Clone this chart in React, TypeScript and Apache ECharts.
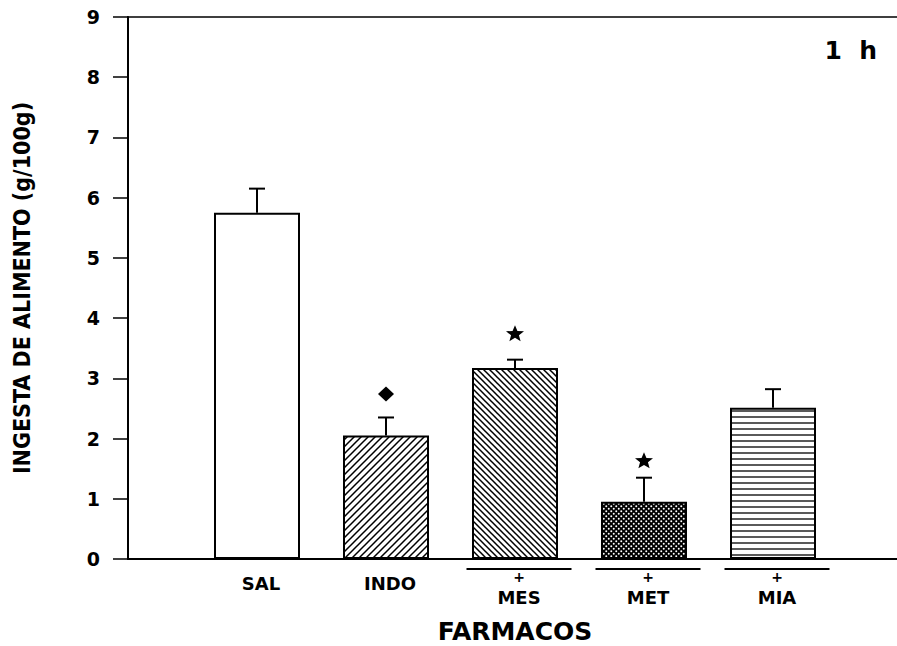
import React, { useEffect, useRef } from "react";
import * as echarts from "echarts";

// Food intake per drug group at 1 h
const categories = ["", "SAL", "INDO", "MES", "MET", "MIA", ""];
const intake = ["-", 5.75, 2.05, 3.17, 0.95, 2.51, "-"];
const sem = [null, 0.4, 0.3, 0.14, 0.4, 0.31, null];
// significance marks drawn above the error caps
const markDiamond = [[2, 2.74]];
const markStar = [[3, 3.75], [4, 1.64]];
const yTicks = [0, 1, 2, 3, 4, 5, 6, 7, 8, 9];
const combined = ["MES", "MET", "MIA"];

const STAR =
  "path://M50,0 L63,33 L98,35 L71,58 L80,92 L50,73 L20,92 L29,58 L2,35 L37,33 Z";

type Kind = "white" | "fwd" | "back" | "dots" | "horiz";
const kinds: Kind[] = ["white", "white", "fwd", "back", "dots", "horiz", "white"];

function makePattern(kind: Kind): any {
  if (kind === "white") return "#ffffff";
  const c = document.createElement("canvas");
  let s = 7;
  if (kind === "back") s = 6;
  if (kind === "dots") s = 5;
  if (kind === "horiz") s = 6;
  c.width = s;
  c.height = s;
  const g = c.getContext("2d")!;
  g.fillStyle = "#fff";
  g.fillRect(0, 0, s, s);
  g.strokeStyle = "#000";
  g.lineWidth = 1.5;
  if (kind === "fwd") {
    g.beginPath();
    g.moveTo(-1, s + 1);
    g.lineTo(s + 1, -1);
    g.moveTo(-1, 1);
    g.lineTo(1, -1);
    g.moveTo(s - 1, s + 1);
    g.lineTo(s + 1, s - 1);
    g.stroke();
  } else if (kind === "back") {
    g.beginPath();
    g.moveTo(-1, -1);
    g.lineTo(s + 1, s + 1);
    g.moveTo(s - 1, -1);
    g.lineTo(s + 1, 1);
    g.moveTo(-1, s - 1);
    g.lineTo(1, s + 1);
    g.stroke();
  } else if (kind === "horiz") {
    g.lineWidth = 1.3;
    g.beginPath();
    g.moveTo(0, s / 2);
    g.lineTo(s, s / 2);
    g.stroke();
  } else if (kind === "dots") {
    g.fillStyle = "#000";
    g.fillRect(0, 0, s, s);
    g.fillStyle = "#fff";
    g.beginPath();
    g.arc(1.25, 1.25, 1.0, 0, Math.PI * 2);
    g.arc(3.75, 3.75, 1.0, 0, Math.PI * 2);
    g.fill();
  }
  return { image: c, repeat: "repeat" };
}

export default function App() {
  const ref = useRef<HTMLDivElement>(null);

  useEffect(() => {
    if (!ref.current) return;
    const chart = echarts.init(ref.current, null, { renderer: "svg" });

    const barData = intake.map((v, i) =>
      v === "-"
        ? "-"
        : {
            value: v,
            itemStyle: {
              color: makePattern(kinds[i]),
              borderColor: "#000",
              borderWidth: 2,
            },
          }
    );

    const errData = intake
      .map((v, i) => (v === "-" ? null : [i, v as number, sem[i] as number]))
      .filter((d) => d !== null);

    const labelFont = "DejaVu Sans";

    chart.setOption({
      animation: false,
      backgroundColor: "#ffffff",
      grid: {
        left: 128,
        right: -5,
        top: 17,
        bottom: 87,
        outerBoundsMode: "none",
        containLabel: false,
        show: true,
        borderColor: "#000",
        borderWidth: 1.5,
        backgroundColor: "transparent",
      },
      xAxis: {
        type: "category",
        data: categories,
        boundaryGap: false,
        axisLine: { lineStyle: { color: "#000", width: 2 } },
        axisTick: { show: false },
        splitLine: { show: false },
        name: "FARMACOS",
        nameLocation: "middle",
        nameGap: 60,
        nameTextStyle: {
          fontFamily: labelFont,
          fontWeight: "bold",
          fontSize: 25,
          color: "#000",
        },
        axisLabel: {
          interval: 0,
          margin: 9,
          padding: [0, 0, 0, 8],
          formatter: (v: string) =>
            v === ""
              ? ""
              : combined.includes(v)
              ? `{rule| }\n{plus|+}\n{name|${v}}`
              : `{sp| }\n{name|${v}}`,
          rich: {
            sp: { fontSize: 1, lineHeight: 2, height: 2 },
            rule: {
              width: 105,
              height: 2,
              lineHeight: 2,
              fontSize: 1,
              backgroundColor: "#000",
            },
            plus: {
              fontFamily: labelFont,
              fontWeight: "bold",
              fontSize: 14,
              lineHeight: 14,
              color: "#000",
            },
            name: {
              fontFamily: labelFont,
              fontWeight: "bold",
              fontSize: 18,
              lineHeight: 26,
              color: "#000",
            },
          },
        },
      },
      yAxis: {
        type: "value",
        min: yTicks[0],
        max: yTicks[yTicks.length - 1],
        interval: 1,
        axisLine: { show: true, lineStyle: { color: "#000", width: 2 } },
        axisTick: { show: true, length: 15, lineStyle: { color: "#000", width: 1.5 } },
        splitLine: { show: false },
        axisLabel: {
          margin: 28,
          fontFamily: labelFont,
          fontWeight: "bold",
          fontSize: 19,
          color: "#000",
        },
        name: "INGESTA DE ALIMENTO (g/100g)",
        nameLocation: "middle",
        nameGap: 95,
        nameTextStyle: {
          fontFamily: "DejaVu Sans Condensed, DejaVu Sans",
          fontWeight: "bold",
          fontSize: 23,
          color: "#000",
        },
      },
      series: [
        {
          type: "bar",
          data: barData,
          barWidth: 86,
          z: 2,
        },
        {
          type: "custom",
          data: errData,
          encode: { x: 0, y: 1 },
          z: 3,
          renderItem: (params: any, api: any) => {
            const x = api.value(0);
            const y = api.value(1);
            const e = api.value(2);
            const base = api.coord([x, y]);
            const top = api.coord([x, y + e]);
            const style = { stroke: "#000", lineWidth: 2 };
            return {
              type: "group",
              children: [
                {
                  type: "line",
                  shape: { x1: base[0], y1: base[1], x2: top[0], y2: top[1] },
                  style,
                },
                {
                  type: "line",
                  shape: { x1: top[0] - 8, y1: top[1], x2: top[0] + 8, y2: top[1] },
                  style,
                },
              ],
            };
          },
        },
        {
          type: "scatter",
          data: markDiamond,
          symbol: "diamond",
          symbolSize: [16, 15],
          itemStyle: { color: "#000", opacity: 1 },
          z: 4,
        },
        {
          type: "scatter",
          data: markStar,
          symbol: STAR,
          symbolSize: [18, 16],
          itemStyle: { color: "#000", opacity: 1 },
          z: 4,
        },
      ],
      graphic: [
        {
          type: "text",
          right: 20,
          top: 38,
          style: {
            text: "1  h",
            fontFamily: labelFont,
            fontWeight: "bold",
            fontSize: 25,
            fill: "#000",
          },
        },
      ],
    });

    return () => chart.dispose();
  }, []);

  return <div ref={ref} style={{ width: 897, height: 646, position: "absolute", left: 0, top: 0 }} />;
}
